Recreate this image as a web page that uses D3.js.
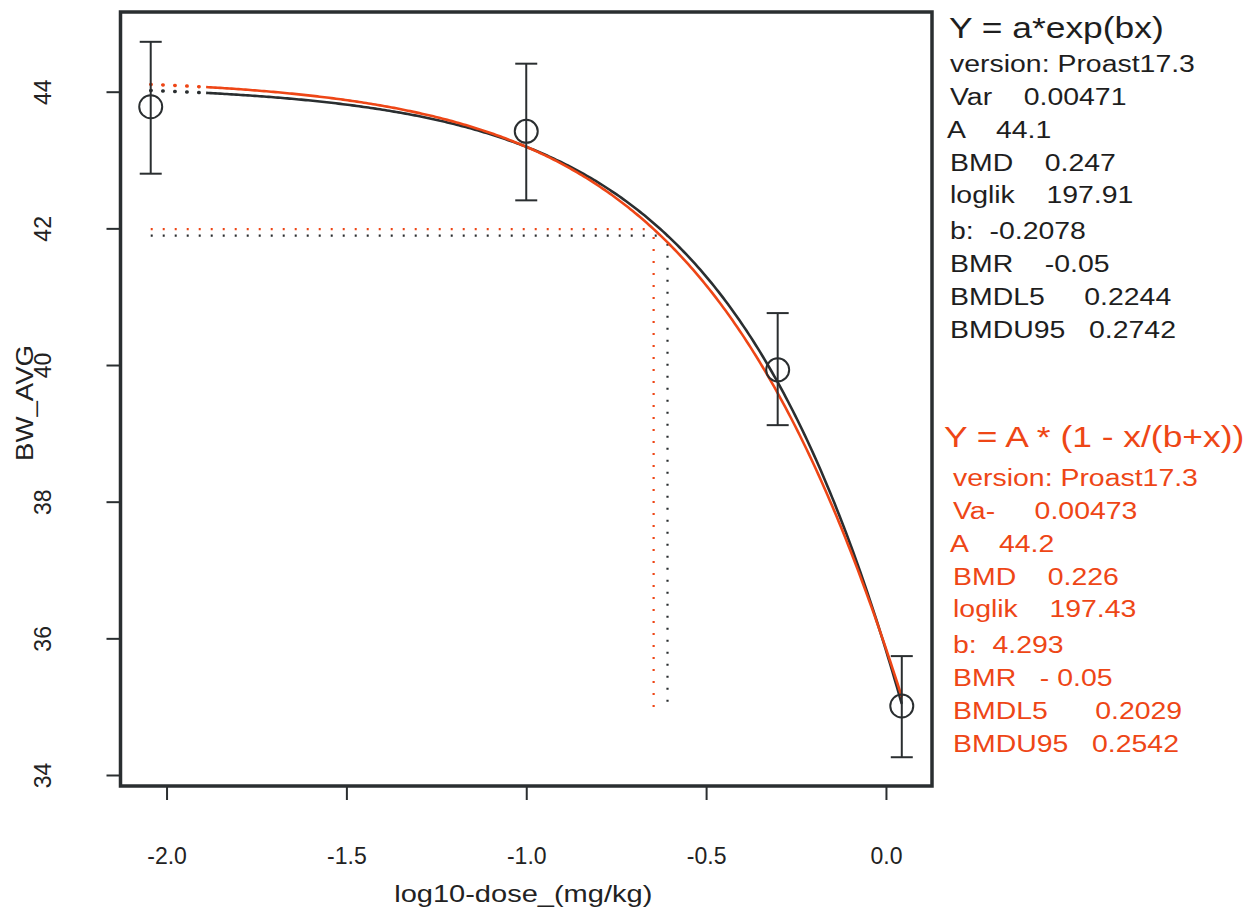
<!DOCTYPE html>
<html>
<head>
<meta charset="utf-8">
<script src="https://cdn.jsdelivr.net/npm/d3@7"></script>
<style>
  html, body { margin: 0; padding: 0; background: #fff; }
  svg { display: block; }
  text { font-family: "Liberation Sans", Arial, sans-serif; white-space: pre; }
</style>
</head>
<body>
<svg id="chart" width="1254" height="911"></svg>
<script>
// Observed group summaries (x on log10 scale; control placed left of lowest dose)
const logDose = [-2.044, -1.0, -0.301, 0.044];
const meanBW  = [43.78, 43.42, 39.93, 35.01];
const lowerBW = [42.80, 42.41, 39.12, 34.26];
const upperBW = [44.73, 44.41, 40.76, 35.74];

// Fitted models
const expParams  = { a: 44.1, b: -0.2078, bmd: 0.247, bmr: -0.05 };
const hillParams = { A: 44.2, b: 4.293,  bmd: 0.226, bmr: -0.05 };
const solidStart = -1.89;   // curve drawn dotted between control position and this log-dose
const bmdLineBottom = 34.98; // lower end of the vertical BMD markers

const xTicks = [-2.0, -1.5, -1.0, -0.5, 0.0];
const yTicks = [34, 36, 38, 40, 42, 44];

const expTitle = "Y = a*exp(bx)";
const expLines = [
  "version: Proast17.3",
  "Var    0.00471",
  "A    44.1",
  "BMD    0.247",
  "loglik    197.91",
  "b:  -0.2078",
  "BMR    -0.05",
  "BMDL5     0.2244",
  "BMDU95   0.2742"
];
const hillTitle = "Y = A * (1 - x/(b+x))";
const hillLines = [
  "version: Proast17.3",
  "Va-     0.00473",
  "A    44.2",
  "BMD    0.226",
  "loglik    197.43",
  "b:  4.293",
  "BMR   - 0.05",
  "BMDL5      0.2029",
  "BMDU95   0.2542"
];

const INK = "#2a2e30";
const RED = "#ee4616";
const STRETCH = 1.21; // horizontally widened lettering

const svg = d3.select("#chart");
const frame = { left: 120.5, right: 932, top: 12, bottom: 786 };

const x = d3.scaleLinear().domain([-2.128, 0.128]).range([frame.left, frame.right]);
const y = d3.scaleLinear().domain([34, 44]).range([775, 91.7]);

// Model curves as functions of dose
const expModel  = d => expParams.a * Math.exp(expParams.b * d);
const hillModel = d => hillParams.A * (1 - d / (hillParams.b + d));

function curvePoints(fn, lo, hi, n) {
  return d3.range(n + 1).map(i => {
    const lx = lo + (hi - lo) * i / n;
    return [lx, fn(Math.pow(10, lx))];
  });
}
const line = d3.line().x(d => x(d[0])).y(d => y(d[1]));

const xLo = logDose[0], xHi = logDose[logDose.length - 1];

// BMD reference lines (dotted)
function bmdMarkers(fn, p, color) {
  const lvl = fn(p.bmd);
  const lx = Math.log10(p.bmd);
  svg.append("line")
    .attr("x1", x(xLo)).attr("x2", x(lx))
    .attr("y1", y(lvl)).attr("y2", y(lvl))
    .attr("stroke", color).attr("stroke-width", 2.2)
    .attr("stroke-dasharray", "2,10");
  svg.append("line")
    .attr("x1", x(lx)).attr("x2", x(lx))
    .attr("y1", y(lvl) + 8).attr("y2", y(bmdLineBottom))
    .attr("stroke", color).attr("stroke-width", 2.2)
    .attr("stroke-dasharray", "2,10");
}
bmdMarkers(hillModel, hillParams, RED);
bmdMarkers(expModel, expParams, INK);

// Curves: dotted stub near control, solid beyond
function drawCurve(fn, color) {
  svg.append("path")
    .attr("d", line(curvePoints(fn, xLo, solidStart, 20)))
    .attr("fill", "none").attr("stroke", color).attr("stroke-width", 3.5)
    .attr("stroke-linecap", "round")
    .attr("stroke-dasharray", "0.5,11.5");
  svg.append("path")
    .attr("d", line(curvePoints(fn, solidStart, xHi, 300)))
    .attr("fill", "none").attr("stroke", color).attr("stroke-width", 2.6);
}
drawCurve(expModel, INK);
drawCurve(hillModel, RED);

// Error bars and group means
const pts = logDose.map((d, i) => ({ lx: d, m: meanBW[i], lo: lowerBW[i], hi: upperBW[i] }));
const g = svg.append("g").attr("stroke", INK).attr("stroke-width", 2).attr("fill", "none");
pts.forEach(p => {
  g.append("line").attr("x1", x(p.lx)).attr("x2", x(p.lx)).attr("y1", y(p.lo)).attr("y2", y(p.hi));
  g.append("line").attr("x1", x(p.lx) - 11).attr("x2", x(p.lx) + 11).attr("y1", y(p.hi)).attr("y2", y(p.hi));
  g.append("line").attr("x1", x(p.lx) - 11).attr("x2", x(p.lx) + 11).attr("y1", y(p.lo)).attr("y2", y(p.lo));
  g.append("circle").attr("cx", x(p.lx)).attr("cy", y(p.m)).attr("r", 11.5);
});

// Plot frame
svg.append("rect")
  .attr("x", frame.left).attr("y", frame.top)
  .attr("width", frame.right - frame.left).attr("height", frame.bottom - frame.top)
  .attr("fill", "none").attr("stroke", INK).attr("stroke-width", 3.5);

// Axes
const xAxis = d3.axisBottom(x).tickValues(xTicks).tickSize(14);
const gx = svg.append("g").attr("transform", `translate(0,${frame.bottom})`).call(xAxis);
gx.select(".domain").remove();
gx.selectAll(".tick line").attr("stroke", INK).attr("stroke-width", 2);
gx.selectAll(".tick text").remove();
gx.selectAll(".tick").append("text")
  .attr("y", 78).attr("text-anchor", "middle").attr("fill", "#222")
  .attr("font-size", 23)
  .text(d => d3.format(".1f")(d).replace("−", "-"));

const yAxis = d3.axisLeft(y).tickValues(yTicks).tickSize(14);
const gy = svg.append("g").attr("transform", `translate(${frame.left},0)`).call(yAxis);
gy.select(".domain").remove();
gy.selectAll(".tick line").attr("stroke", INK).attr("stroke-width", 2);
gy.selectAll(".tick text").remove();
gy.selectAll(".tick").append("text")
  .attr("transform", "translate(-78,0) rotate(-90)")
  .attr("text-anchor", "middle").attr("dominant-baseline", "central")
  .attr("fill", "#222").attr("font-size", 23)
  .text(d => d);

// Axis titles
svg.append("text")
  .attr("transform", `translate(${(frame.left + frame.right) / 2 - 3},902) scale(${STRETCH},1)`)
  .attr("text-anchor", "middle").attr("fill", "#222").attr("font-size", 24)
  .text("log10-dose_(mg/kg)");
svg.append("text")
  .attr("transform", `translate(33,${(frame.top + frame.bottom) / 2 + 4}) rotate(-90) scale(1.15,1)`)
  .attr("text-anchor", "middle").attr("fill", "#222").attr("font-size", 24)
  .text("BW_AVG");

// Model annotation blocks
function annot(title, lines, color, x0, titleX, titleY, firstY) {
  svg.append("text")
    .attr("transform", `translate(${titleX},${titleY}) scale(1.18,1)`)
    .attr("dominant-baseline", "central").attr("fill", color).attr("font-size", 30)
    .text(title);
  svg.append("g").selectAll("text").data(lines).join("text")
    .attr("transform", (d, i) =>
      `translate(${x0 - (d.startsWith("A ") ? 3 : 0)},${firstY + i * 32.8 + (i >= 5 ? 3 : 0)}) scale(${STRETCH},1)`)
    .attr("dominant-baseline", "central").attr("fill", color).attr("font-size", 23.5)
    .text(d => d);
}
annot(expTitle, expLines, "#1e1e1e", 950, 949, 27, 64);
annot(hillTitle, hillLines, RED, 953, 944, 436, 478);
</script>
</body>
</html>
